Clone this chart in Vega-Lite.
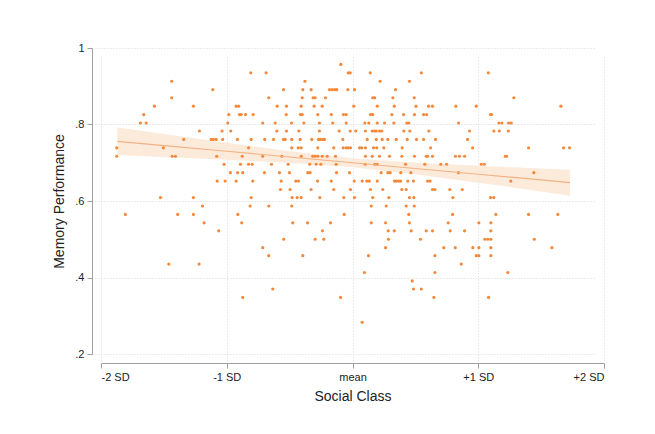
{
"$schema": "https://vega.github.io/schema/vega-lite/v6.json",
"width": 503, "height": 306,
"autosize": "none",
"padding": {"left": 101, "top": 48, "right": 51, "bottom": 80},
"background": "white",
"config": {
 "view": {"stroke": null},
 "font": "Liberation Sans",
 "axis": {"domainColor": "#a0a0a0", "tickColor": "#a0a0a0", "gridColor": "#d8d8d8", "gridDash": [1, 2], "gridWidth": 1, "labelColor": "#222", "titleColor": "#222", "labelFontSize": 11, "titleFontSize": 14, "titleFontWeight": "normal", "tickSize": 5, "labelPadding": 3, "offset": 9}
},
"datasets": {
 "fit": [
  {"x": -1.87, "fit": 0.756, "lo": 0.720, "hi": 0.792},
  {"x": -1.5, "fit": 0.745, "lo": 0.715, "hi": 0.775},
  {"x": -1.0, "fit": 0.730, "lo": 0.708, "hi": 0.752},
  {"x": -0.5, "fit": 0.715, "lo": 0.700, "hi": 0.730},
  {"x": 0.0, "fit": 0.700, "lo": 0.688, "hi": 0.712},
  {"x": 0.5, "fit": 0.685, "lo": 0.670, "hi": 0.700},
  {"x": 1.0, "fit": 0.670, "lo": 0.648, "hi": 0.692},
  {"x": 1.5, "fit": 0.655, "lo": 0.625, "hi": 0.685},
  {"x": 1.73, "fit": 0.648, "lo": 0.614, "hi": 0.682}
 ],
 "pts": [
  {"x": -0.093, "y": 0.957},
  {"x": -0.809, "y": 0.935}, {"x": -0.687, "y": 0.935}, {"x": -0.034, "y": 0.935}, {"x": -0.018, "y": 0.935}, {"x": 0.141, "y": 0.935}, {"x": 0.547, "y": 0.935}, {"x": 1.080, "y": 0.935},
  {"x": -1.438, "y": 0.913}, {"x": -0.378, "y": 0.913}, {"x": 0.220, "y": 0.913}, {"x": 0.453, "y": 0.913},
  {"x": -1.111, "y": 0.891}, {"x": -0.549, "y": 0.891}, {"x": -0.395, "y": 0.891}, {"x": -0.329, "y": 0.891}, {"x": -0.183, "y": 0.891}, {"x": -0.161, "y": 0.891}, {"x": -0.141, "y": 0.891}, {"x": -0.125, "y": 0.891}, {"x": -0.037, "y": 0.891}, {"x": 0.016, "y": 0.891}, {"x": 0.342, "y": 0.891},
  {"x": -1.438, "y": 0.870}, {"x": -0.666, "y": 0.870}, {"x": -0.400, "y": 0.870}, {"x": -0.313, "y": 0.870}, {"x": -0.297, "y": 0.870}, {"x": -0.215, "y": 0.870}, {"x": 0.161, "y": 0.870}, {"x": 0.177, "y": 0.870}, {"x": 0.321, "y": 0.870}, {"x": 0.491, "y": 0.870}, {"x": 1.283, "y": 0.870},
  {"x": -1.575, "y": 0.848}, {"x": -1.265, "y": 0.848}, {"x": -0.925, "y": 0.848}, {"x": -0.905, "y": 0.848}, {"x": -0.599, "y": 0.848}, {"x": -0.525, "y": 0.848}, {"x": -0.408, "y": 0.848}, {"x": -0.305, "y": 0.848}, {"x": -0.241, "y": 0.848}, {"x": 0.010, "y": 0.848}, {"x": 0.197, "y": 0.848}, {"x": 0.332, "y": 0.848}, {"x": 0.505, "y": 0.848}, {"x": 0.605, "y": 0.848}, {"x": 0.636, "y": 0.848}, {"x": 0.822, "y": 0.848}, {"x": 0.984, "y": 0.848}, {"x": 1.657, "y": 0.848},
  {"x": -1.660, "y": 0.826}, {"x": -0.984, "y": 0.826}, {"x": -0.899, "y": 0.826}, {"x": -0.885, "y": 0.826}, {"x": -0.851, "y": 0.826}, {"x": -0.790, "y": 0.826}, {"x": -0.527, "y": 0.826}, {"x": -0.414, "y": 0.826}, {"x": -0.400, "y": 0.826}, {"x": -0.276, "y": 0.826}, {"x": -0.169, "y": 0.826}, {"x": -0.072, "y": 0.826}, {"x": -0.050, "y": 0.826}, {"x": 0.143, "y": 0.826}, {"x": 0.161, "y": 0.826}, {"x": 0.313, "y": 0.826}, {"x": 0.406, "y": 0.826}, {"x": 0.493, "y": 0.826}, {"x": 0.565, "y": 0.826}, {"x": 0.589, "y": 0.826}, {"x": 1.098, "y": 0.826}, {"x": 1.106, "y": 0.826},
  {"x": -1.687, "y": 0.804}, {"x": -1.641, "y": 0.804}, {"x": -0.992, "y": 0.804}, {"x": -0.714, "y": 0.804}, {"x": -0.615, "y": 0.804}, {"x": -0.485, "y": 0.804}, {"x": -0.387, "y": 0.804}, {"x": -0.263, "y": 0.804}, {"x": -0.157, "y": 0.804}, {"x": -0.050, "y": 0.804}, {"x": 0.098, "y": 0.804}, {"x": 0.130, "y": 0.804}, {"x": 0.197, "y": 0.804}, {"x": 0.255, "y": 0.804}, {"x": 0.329, "y": 0.804}, {"x": 0.432, "y": 0.804}, {"x": 0.448, "y": 0.804}, {"x": 0.843, "y": 0.804}, {"x": 1.164, "y": 0.804}, {"x": 1.188, "y": 0.804}, {"x": 1.241, "y": 0.804}, {"x": 1.263, "y": 0.804},
  {"x": -1.217, "y": 0.783}, {"x": -1.037, "y": 0.783}, {"x": -0.968, "y": 0.783}, {"x": -0.602, "y": 0.783}, {"x": -0.525, "y": 0.783}, {"x": -0.427, "y": 0.783}, {"x": -0.263, "y": 0.783}, {"x": -0.106, "y": 0.783}, {"x": -0.018, "y": 0.783}, {"x": 0.026, "y": 0.783}, {"x": 0.103, "y": 0.783}, {"x": 0.157, "y": 0.783}, {"x": 0.175, "y": 0.783}, {"x": 0.189, "y": 0.783}, {"x": 0.215, "y": 0.783}, {"x": 0.233, "y": 0.783}, {"x": 0.408, "y": 0.783}, {"x": 0.456, "y": 0.783}, {"x": 0.607, "y": 0.783}, {"x": 0.931, "y": 0.783}, {"x": 1.124, "y": 0.783}, {"x": 1.167, "y": 0.783}, {"x": 1.239, "y": 0.783},
  {"x": -1.342, "y": 0.761}, {"x": -1.124, "y": 0.761}, {"x": -1.106, "y": 0.761}, {"x": -1.084, "y": 0.761}, {"x": -1.032, "y": 0.761}, {"x": -0.915, "y": 0.761}, {"x": -0.806, "y": 0.761}, {"x": -0.698, "y": 0.761}, {"x": -0.628, "y": 0.761}, {"x": -0.549, "y": 0.761}, {"x": -0.535, "y": 0.761}, {"x": -0.483, "y": 0.761}, {"x": -0.416, "y": 0.761}, {"x": -0.324, "y": 0.761}, {"x": -0.270, "y": 0.761}, {"x": -0.255, "y": 0.761}, {"x": -0.236, "y": 0.761}, {"x": -0.223, "y": 0.761}, {"x": -0.077, "y": 0.761}, {"x": 0.117, "y": 0.761}, {"x": 0.189, "y": 0.761}, {"x": 0.236, "y": 0.761}, {"x": 0.281, "y": 0.761}, {"x": 0.348, "y": 0.761}, {"x": 0.435, "y": 0.761}, {"x": 0.509, "y": 0.761}, {"x": 0.565, "y": 0.761}, {"x": 0.660, "y": 0.761}, {"x": 0.915, "y": 0.761},
  {"x": -1.875, "y": 0.739}, {"x": -1.504, "y": 0.739}, {"x": -0.827, "y": 0.739}, {"x": -0.483, "y": 0.739}, {"x": -0.432, "y": 0.739}, {"x": -0.408, "y": 0.739}, {"x": -0.276, "y": 0.739}, {"x": -0.149, "y": 0.739}, {"x": -0.074, "y": 0.739}, {"x": -0.050, "y": 0.739}, {"x": -0.034, "y": 0.739}, {"x": -0.016, "y": 0.739}, {"x": 0.056, "y": 0.739}, {"x": 0.074, "y": 0.739}, {"x": 0.103, "y": 0.739}, {"x": 0.167, "y": 0.739}, {"x": 0.193, "y": 0.739}, {"x": 0.249, "y": 0.739}, {"x": 0.395, "y": 0.739}, {"x": 0.621, "y": 0.739}, {"x": 0.955, "y": 0.739}, {"x": 1.400, "y": 0.739}, {"x": 1.679, "y": 0.739}, {"x": 1.726, "y": 0.739},
  {"x": -1.875, "y": 0.717}, {"x": -1.434, "y": 0.717}, {"x": -1.408, "y": 0.717}, {"x": -1.080, "y": 0.717}, {"x": -0.877, "y": 0.717}, {"x": -0.714, "y": 0.717}, {"x": -0.562, "y": 0.717}, {"x": -0.408, "y": 0.717}, {"x": -0.316, "y": 0.717}, {"x": -0.297, "y": 0.717}, {"x": -0.276, "y": 0.717}, {"x": -0.241, "y": 0.717}, {"x": -0.201, "y": 0.717}, {"x": -0.135, "y": 0.717}, {"x": 0.103, "y": 0.717}, {"x": 0.157, "y": 0.717}, {"x": 0.215, "y": 0.717}, {"x": 0.294, "y": 0.717}, {"x": 0.392, "y": 0.717}, {"x": 0.493, "y": 0.717}, {"x": 0.586, "y": 0.717}, {"x": 0.597, "y": 0.717}, {"x": 0.636, "y": 0.717}, {"x": 0.819, "y": 0.717}, {"x": 0.851, "y": 0.717}, {"x": 0.891, "y": 0.717}, {"x": 1.215, "y": 0.717}, {"x": 1.225, "y": 0.717},
  {"x": -1.021, "y": 0.696}, {"x": -0.891, "y": 0.696}, {"x": -0.827, "y": 0.696}, {"x": -0.798, "y": 0.696}, {"x": -0.644, "y": 0.696}, {"x": -0.512, "y": 0.696}, {"x": -0.340, "y": 0.696}, {"x": -0.289, "y": 0.696}, {"x": -0.252, "y": 0.696}, {"x": -0.130, "y": 0.696}, {"x": 0.101, "y": 0.696}, {"x": 0.177, "y": 0.696}, {"x": 0.197, "y": 0.696}, {"x": 0.422, "y": 0.696}, {"x": 0.575, "y": 0.696}, {"x": 0.702, "y": 0.696}, {"x": 0.748, "y": 0.696}, {"x": 1.024, "y": 0.696}, {"x": 1.048, "y": 0.696},
  {"x": -0.971, "y": 0.674}, {"x": -0.913, "y": 0.674}, {"x": -0.873, "y": 0.674}, {"x": -0.700, "y": 0.674}, {"x": -0.581, "y": 0.674}, {"x": -0.501, "y": 0.674}, {"x": -0.356, "y": 0.674}, {"x": -0.337, "y": 0.674}, {"x": -0.127, "y": 0.674}, {"x": -0.024, "y": 0.674}, {"x": 0.228, "y": 0.674}, {"x": 0.281, "y": 0.674}, {"x": 0.300, "y": 0.674}, {"x": 0.384, "y": 0.674}, {"x": 0.464, "y": 0.674}, {"x": 0.843, "y": 0.674}, {"x": 1.442, "y": 0.674},
  {"x": -1.076, "y": 0.652}, {"x": -1.013, "y": 0.652}, {"x": -0.925, "y": 0.652}, {"x": -0.793, "y": 0.652}, {"x": -0.567, "y": 0.652}, {"x": -0.451, "y": 0.652}, {"x": -0.430, "y": 0.652}, {"x": -0.278, "y": 0.652}, {"x": -0.169, "y": 0.652}, {"x": 0.014, "y": 0.652}, {"x": 0.077, "y": 0.652}, {"x": 0.114, "y": 0.652}, {"x": 0.133, "y": 0.652}, {"x": 0.197, "y": 0.652}, {"x": 0.334, "y": 0.652}, {"x": 0.348, "y": 0.652}, {"x": 0.366, "y": 0.652}, {"x": 0.382, "y": 0.652}, {"x": 0.440, "y": 0.652}, {"x": 0.485, "y": 0.652}, {"x": 0.597, "y": 0.652}, {"x": 0.617, "y": 0.652}, {"x": 1.259, "y": 0.652},
  {"x": -0.573, "y": 0.630}, {"x": -0.496, "y": 0.630}, {"x": -0.329, "y": 0.630}, {"x": -0.149, "y": 0.630}, {"x": -0.016, "y": 0.630}, {"x": 0.143, "y": 0.630}, {"x": 0.241, "y": 0.630}, {"x": 0.392, "y": 0.630}, {"x": 0.427, "y": 0.630}, {"x": 0.636, "y": 0.630}, {"x": 0.655, "y": 0.630}, {"x": 0.774, "y": 0.630}, {"x": 0.873, "y": 0.630},
  {"x": -1.527, "y": 0.609}, {"x": -1.265, "y": 0.609}, {"x": -0.806, "y": 0.609}, {"x": -0.480, "y": 0.609}, {"x": -0.440, "y": 0.609}, {"x": -0.408, "y": 0.609}, {"x": -0.260, "y": 0.609}, {"x": -0.069, "y": 0.609}, {"x": 0.016, "y": 0.609}, {"x": 0.161, "y": 0.609}, {"x": 0.289, "y": 0.609}, {"x": 0.453, "y": 0.609}, {"x": 0.488, "y": 0.609}, {"x": 0.798, "y": 0.609}, {"x": 1.098, "y": 0.609}, {"x": 1.124, "y": 0.609},
  {"x": -1.193, "y": 0.587}, {"x": -0.814, "y": 0.587}, {"x": -0.666, "y": 0.587}, {"x": -0.483, "y": 0.587}, {"x": 0.149, "y": 0.587}, {"x": 0.268, "y": 0.587}, {"x": 0.427, "y": 0.587}, {"x": 0.491, "y": 0.587},
  {"x": -1.806, "y": 0.565}, {"x": -1.390, "y": 0.565}, {"x": -1.265, "y": 0.565}, {"x": -0.912, "y": 0.565}, {"x": -0.066, "y": 0.565}, {"x": 0.448, "y": 0.565}, {"x": 0.796, "y": 0.565}, {"x": 1.140, "y": 0.565}, {"x": 1.400, "y": 0.565}, {"x": 1.633, "y": 0.565},
  {"x": -1.180, "y": 0.543}, {"x": -0.881, "y": 0.543}, {"x": -0.475, "y": 0.543}, {"x": -0.358, "y": 0.543}, {"x": -0.175, "y": 0.543}, {"x": 0.149, "y": 0.543}, {"x": 0.263, "y": 0.543}, {"x": 0.453, "y": 0.543}, {"x": 0.761, "y": 0.543}, {"x": 1.005, "y": 0.543}, {"x": 1.100, "y": 0.543},
  {"x": -1.064, "y": 0.522}, {"x": -0.239, "y": 0.522}, {"x": 0.284, "y": 0.522}, {"x": 0.332, "y": 0.522}, {"x": 0.467, "y": 0.522}, {"x": 0.586, "y": 0.522}, {"x": 0.636, "y": 0.522}, {"x": 0.777, "y": 0.522}, {"x": 0.891, "y": 0.522}, {"x": 1.100, "y": 0.522},
  {"x": -0.547, "y": 0.500}, {"x": -0.297, "y": 0.500}, {"x": -0.228, "y": 0.500}, {"x": 0.286, "y": 0.500}, {"x": 0.541, "y": 0.500}, {"x": 1.052, "y": 0.500}, {"x": 1.076, "y": 0.500}, {"x": 1.100, "y": 0.500}, {"x": 1.446, "y": 0.500},
  {"x": -0.714, "y": 0.478}, {"x": 0.263, "y": 0.478}, {"x": 0.726, "y": 0.478}, {"x": 0.817, "y": 0.478}, {"x": 0.957, "y": 0.478}, {"x": 1.005, "y": 0.478}, {"x": 1.100, "y": 0.478}, {"x": 1.586, "y": 0.478},
  {"x": -0.666, "y": 0.457}, {"x": -0.395, "y": 0.457}, {"x": 0.127, "y": 0.457}, {"x": 0.655, "y": 0.457}, {"x": 0.984, "y": 0.457}, {"x": 1.005, "y": 0.457}, {"x": 1.100, "y": 0.457},
  {"x": -1.461, "y": 0.435}, {"x": -1.220, "y": 0.435}, {"x": 0.865, "y": 0.435},
  {"x": 0.095, "y": 0.413}, {"x": 0.655, "y": 0.413}, {"x": 1.235, "y": 0.413},
  {"x": 0.475, "y": 0.391},
  {"x": -0.634, "y": 0.370}, {"x": 0.485, "y": 0.370}, {"x": 0.547, "y": 0.370},
  {"x": -0.873, "y": 0.348}, {"x": -0.095, "y": 0.348}, {"x": 0.647, "y": 0.348}, {"x": 1.082, "y": 0.348},
  {"x": 0.077, "y": 0.283}
 ]
},
"layer": [
 {
  "data": {"name": "fit"},
  "mark": {"type": "area", "color": "#fce6d4", "opacity": 0.85},
  "encoding": {
   "x": {"field": "x", "type": "quantitative", "scale": {"domain": [-2, 2], "nice": false, "zero": false},
     "axis": {"values": [-2, -1, 0, 1, 2], "title": "Social Class", "titlePadding": 7,
       "labelExpr": "datum.value == 0 ? 'mean' : (datum.value > 0 ? '+' + datum.value + ' SD' : datum.value + ' SD')"}},
   "y": {"field": "lo", "type": "quantitative", "scale": {"domain": [0.2, 1], "nice": false, "zero": false},
     "axis": {"values": [0.2, 0.4, 0.6, 0.8, 1], "title": "Memory Performance", "titlePadding": 8,
       "labelExpr": "datum.value == 1 ? '1' : replace(format(datum.value, '.1f'), '0.', '.')"}},
   "y2": {"field": "hi"}
  }
 },
 {
  "data": {"name": "pts"},
  "mark": {"type": "circle", "color": "#f4883a", "size": 10, "opacity": 1},
  "encoding": {
   "x": {"field": "x", "type": "quantitative"},
   "y": {"field": "y", "type": "quantitative"}
  }
 },
 {
  "data": {"name": "fit"},
  "mark": {"type": "line", "color": "#f3b286", "strokeWidth": 1.2},
  "encoding": {
   "x": {"field": "x", "type": "quantitative"},
   "y": {"field": "fit", "type": "quantitative"}
  }
 }
]
}
